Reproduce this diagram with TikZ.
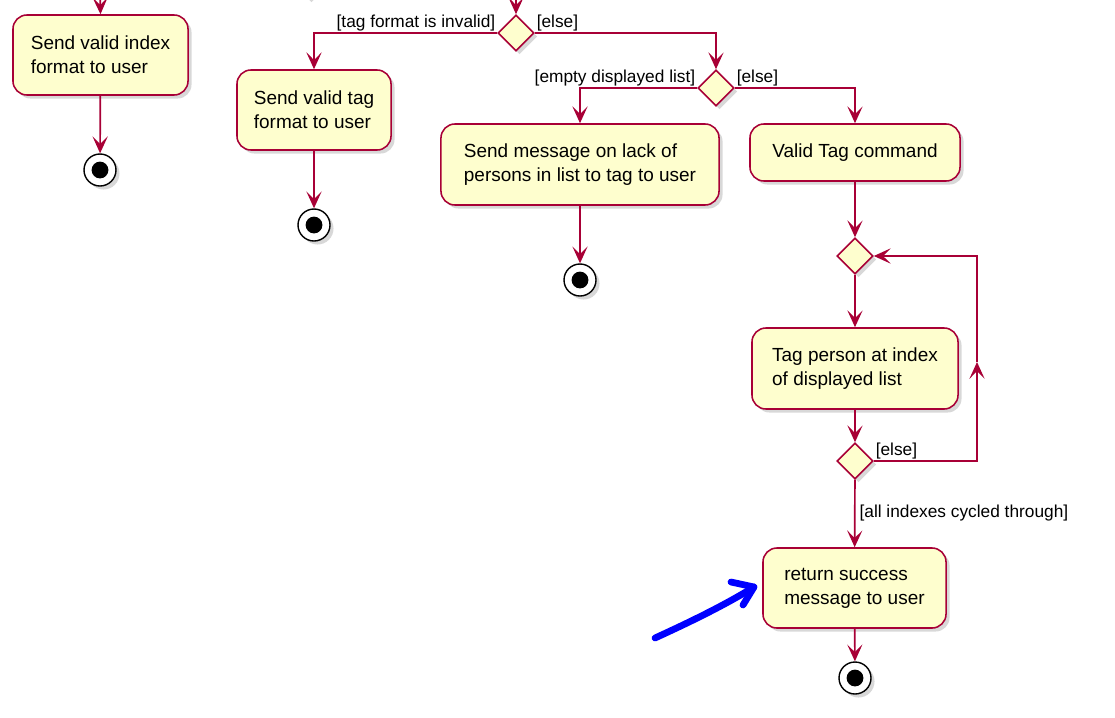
\documentclass[tikz,border=0pt]{standalone}
\usepackage{fontspec}
\setmainfont{Liberation Sans}
\usetikzlibrary{shapes.geometric, arrows.meta, shadows}
\definecolor{fondjaune}{HTML}{FEFECE}
\definecolor{bordeaux}{HTML}{A80036}
\begin{document}
\begin{tikzpicture}[x=0.025cm, y=-0.025cm]
\tikzset{ombre/.style={drop shadow={shadow xshift=2.5pt, shadow yshift=-2.5pt, opacity=0.3, fill=gray}}}
\tikzset{boite/.style={draw=bordeaux, fill=fondjaune, line width=1.1pt, rounded corners=0.35cm, align=left, inner sep=0pt, font=\fontsize{13.5}{17}\selectfont, ombre}}
\tikzset{losange/.style={draw=bordeaux, fill=fondjaune, line width=1.1pt, diamond, aspect=1, inner sep=0pt, minimum width=0.9cm, minimum height=0.9cm, ombre}}
\tikzset{fin/.style={draw=black, fill=white, line width=1pt, circle, inner sep=0pt, minimum size=0.8cm, ombre, path picture={\fill[black] (path picture bounding box.center) circle (0.21cm);}}}
\tikzset{fleche/.style={draw=bordeaux, line width=1.2pt, -{Stealth[length=0.42cm, width=0.38cm, inset=0.19cm]}}}
\tikzset{etiq/.style={font=\fontsize{12.3}{14}\selectfont, inner sep=0.8pt}}
\tikzset{bleu/.style={draw=blue, line width=4.8pt, line cap=round, line join=round}}
\clip (0, 0) rectangle (1115, 717);
\fill[white] (0, 0) rectangle (1115, 717);
% haut coupe
\coordinate (H1) at (100, -10);
\coordinate (H2) at (516, -10);
\node[losange] (D0) at (308, -19) {};
% activites
\node[boite, minimum width=4.375cm, minimum height=2cm] (A1) at (100.5, 55) {Send valid index\\format to user};
\node[boite, minimum width=3.85cm, minimum height=2cm] (A2) at (314, 110) {Send valid tag\\format to user};
\node[boite, minimum width=6.95cm, minimum height=2.025cm] (A3) at (580, 164.5) {Send message on lack of\\persons in list to tag to user};
\node[boite, minimum width=5.25cm, minimum height=1.425cm] (A4) at (855, 152.5) {Valid Tag command};
\node[boite, minimum width=5.15cm, minimum height=2.025cm] (A5) at (855, 368.5) {Tag person at index\\of displayed list};
\node[boite, minimum width=4.575cm, minimum height=2cm] (A6) at (854.5, 588) {return success\\message to user};
% choix
\node[losange] (D1) at (516, 33) {};
\node[losange] (D2) at (716, 88) {};
\node[losange] (D3) at (855, 256) {};
\node[losange] (D4) at (855, 461) {};
% fins
\node[fin] (F1) at (100, 170) {};
\node[fin] (F2) at (314, 225) {};
\node[fin] (F3) at (580, 280) {};
\node[fin] (F6) at (855, 678) {};
% boucle
\coordinate (B1) at (977, 461);
\coordinate (M1) at (977, 362);
\coordinate (B2) at (977, 256);
% fleches
\draw[fleche] (H1) -- (A1.north);
\draw[fleche] (A1) -- (F1);
\draw[fleche] (H2) -- (D1.north);
\draw[fleche] (D1.west) node[etiq, anchor=south east] (L1) {[tag format is invalid]} -| (A2.north);
\draw[fleche] (D1.east) node[etiq, anchor=south west] (L2) {[else]} -| (D2.north);
\draw[fleche] (A2) -- (F2);
\draw[fleche] (D2.west) node[etiq, anchor=south east] (L3) {[empty displayed list]} -| (A3.north);
\draw[fleche] (D2.east) node[etiq, anchor=south west] (L4) {[else]} -| (A4.north);
\draw[fleche] (A3) -- (F3);
\draw[fleche] (A4) -- (D3);
\draw[fleche] (D3) -- (A5);
\draw[fleche] (A5) -- (D4);
\draw[fleche] (D4.east) node[etiq, anchor=south west] (L5) {[else]} -- (B1) -- (M1);
\draw[fleche] (M1) -- (B2) -- (D3.east);
\draw[fleche] (D4) -- node[etiq, right, xshift=2pt] (L6) {[all indexes cycled through]} (A6);
\draw[fleche] (A6) -- (F6);
% annotation
\coordinate (P1) at (655, 638);
\coordinate (P2) at (754, 587);
\coordinate (P3) at (731, 582);
\coordinate (P4) at (743, 605);
\draw[bleu] (P1) .. controls (690, 622) and (725, 605) .. (P2);
\draw[bleu] (P3) -- (P2) -- (P4);
\end{tikzpicture}
\end{document}
